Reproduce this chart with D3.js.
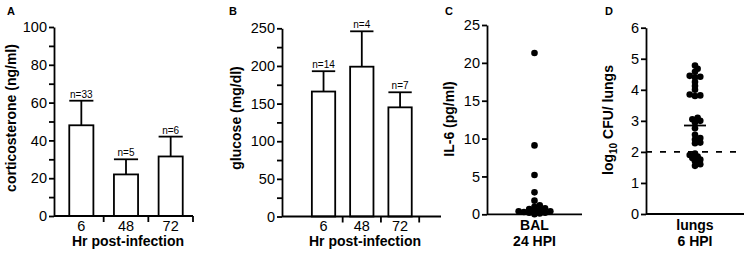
<!DOCTYPE html>
<html>
<head>
<meta charset="utf-8">
<script src="https://cdn.jsdelivr.net/npm/d3@7"></script>
<style>
body{margin:0;background:#fff;}
svg{display:block;font-family:"Liberation Sans",Arial,sans-serif;}
</style>
</head>
<body>
<svg id="fig" width="744" height="254"></svg>
<script>
//panel A + B : bars
var hours=['6','48','72'];
var cortMean=[48,22,31.5];
var cortTop=[61,30,42];
var cortN=['n=33','n=5','n=6'];
var glucMean=[166,199,145];
var glucTop=[193,246,165];
var glucN=['n=14','n=4','n=7'];

//panel C + D : scatter
var il6=[21.3,9.1,5.2,2.9,1.8,1.2,1.0,0.8,0.7,0.6,0.5,0.4,0.4,0.3,0.2,0.2,0.1,0.0];
var cfu=[4.78,4.68,4.58,4.45,4.42,4.4,4.25,4.12,4.0,3.85,3.82,3.8,
  3.1,3.05,3.0,2.95,2.76,2.55,2.45,2.4,2.3,2.28,
  1.95,1.9,1.85,1.8,1.75,1.7,1.6,1.55];
var cfuMean=2.85;
var cfuLimit=2;

var svg=d3.select('#fig');
var black='#000';

function yAxis(g,y,ticks,labelEvery){
  var ax=d3.axisLeft(y)
    .tickValues(ticks)
    .tickFormat(d=> d%labelEvery ? '' : d)
    .tickSize(5)
    .tickSizeOuter(0)
    .tickPadding(2);
  g.call(ax);
  g.attr('font-size',14.5).attr('font-family',null);
  g.selectAll('path,line').attr('stroke',black).attr('stroke-width',1.8);
  g.selectAll('text').attr('fill',black);
}

function yTitle(x,yc,txt){
  svg.append('text')
    .attr('transform','translate('+x+','+yc+') rotate(-90)')
    .attr('text-anchor','middle')
    .attr('font-weight','bold')
    .attr('font-size',14)
    .text(txt);
}

function letter(x,y,t){
  svg.append('text').attr('x',x).attr('y',y)
    .attr('font-weight','bold').attr('font-size',11).text(t);
}

function drawBars(o){
  var y=d3.scaleLinear().domain(o.ydom).range([o.y0,o.y1]);
  var x=d3.scaleBand().domain(hours).range(o.xr)
    .paddingInner(o.pad).paddingOuter(o.pad/2);
  var bw=x.bandwidth(), step=x.step();
  var g=svg.append('g');
  var rows=hours.map((h,i)=>({h:h,m:o.mean[i],t:o.top[i],n:o.n[i]}));

  //error bars first, bars on top
  g.selectAll('.err').data(rows).enter().append('line')
    .attr('x1',d=>x(d.h)+bw/2).attr('x2',d=>x(d.h)+bw/2)
    .attr('y1',d=>y(d.m)).attr('y2',d=>y(d.t))
    .attr('stroke',black).attr('stroke-width',1.8);
  g.selectAll('.cap').data(rows).enter().append('line')
    .attr('x1',d=>x(d.h)).attr('x2',d=>x(d.h)+bw)
    .attr('y1',d=>y(d.t)).attr('y2',d=>y(d.t))
    .attr('stroke',black).attr('stroke-width',1.8);
  g.selectAll('rect').data(rows).enter().append('rect')
    .attr('x',d=>x(d.h)).attr('y',d=>y(d.m))
    .attr('width',bw).attr('height',d=>y(0)-y(d.m))
    .attr('fill','#fff').attr('stroke',black).attr('stroke-width',1.8);
  g.selectAll('.n').data(rows).enter().append('text')
    .attr('x',d=>x(d.h)+bw/2).attr('y',d=>y(d.t)-3)
    .attr('text-anchor','middle').attr('font-size',10).text(d=>d.n);

  //x axis
  g.append('line').attr('x1',o.ax).attr('x2',o.xend)
    .attr('y1',y(0)).attr('y2',y(0))
    .attr('stroke',black).attr('stroke-width',1.8);
  g.selectAll('.xt').data(hours).enter().append('line')
    .attr('x1',d=>x(d)+bw/2+step/2).attr('x2',d=>x(d)+bw/2+step/2)
    .attr('y1',y(0)).attr('y2',y(0)+6)
    .attr('stroke',black).attr('stroke-width',1.8);
  g.selectAll('.xl').data(hours).enter().append('text')
    .attr('x',d=>x(d)+bw/2).attr('y',y(0)+14.5)
    .attr('text-anchor','middle').attr('font-size',14.5).text(d=>d);
  g.append('text').attr('x',o.titleX).attr('y',246)
    .attr('text-anchor','middle').attr('font-weight','bold').attr('font-size',14)
    .text('Hr post-infection');

  yAxis(g.append('g').attr('transform','translate('+o.ax+',0)'),y,o.ticks,o.every);
}

function swarm(vals,y,cx,r){
  var placed=[];
  vals.slice().sort(d3.ascending).forEach(v=>{
    var py=y(v), k=0, px;
    while(true){
      px=cx+(k===0?0:(k%2?1:-1)*Math.ceil(k/2)*r*0.8);
      if(!placed.some(p=>Math.hypot(p.x-px,p.y-py)<2*r*0.55)) break;
      k++;
    }
    placed.push({x:px,y:py});
  });
  return placed;
}

function drawDots(o){
  var y=d3.scaleLinear().domain(o.ydom).range([o.y0,o.y1]);
  var g=svg.append('g');
  var cx=(o.ax+o.xend)/2;
  if(o.dash!=null){
    g.append('line').attr('x1',o.ax).attr('x2',o.xend)
      .attr('y1',y(o.dash)).attr('y2',y(o.dash))
      .attr('stroke',black).attr('stroke-width',1.8).attr('stroke-dasharray','6,8');
  }
  var pts=swarm(o.vals,y,cx,3.3);
  g.selectAll('circle').data(pts).enter().append('circle')
    .attr('cx',d=>d.x).attr('cy',d=>d.y).attr('r',3.3).attr('fill',black);
  if(o.mean!=null){
    g.append('line').attr('x1',cx-11).attr('x2',cx+11)
      .attr('y1',y(o.mean)).attr('y2',y(o.mean))
      .attr('stroke',black).attr('stroke-width',1.8);
  }
  g.append('line').attr('x1',o.ax).attr('x2',o.xend)
    .attr('y1',y(0)).attr('y2',y(0))
    .attr('stroke',black).attr('stroke-width',1.8);
  o.lab.forEach((t,i)=>{
    g.append('text').attr('x',cx).attr('y',230+i*15.5)
      .attr('text-anchor','middle').attr('font-weight','bold').attr('font-size',14).text(t);
  });
  yAxis(g.append('g').attr('transform','translate('+o.ax+',0)'),y,o.ticks,o.every);
}

drawBars({ydom:[0,100],y0:216,y1:27,xr:[59,193],pad:0.46,ax:54,xend:193,
  mean:cortMean,top:cortTop,n:cortN,ticks:d3.range(0,101,10),every:20,titleX:128});
drawBars({ydom:[0,250],y0:216.5,y1:28.3,xr:[304.4,419.2],pad:0.39,ax:282,xend:441,
  mean:glucMean,top:glucTop,n:glucN,ticks:d3.range(0,251,25),every:50,titleX:365});
drawDots({ydom:[0,25],y0:214.3,y1:25,ax:487,xend:582,vals:il6,
  ticks:d3.range(0,26,5),every:5,lab:['BAL','24 HPI']});
drawDots({ydom:[0,6],y0:214,y1:27.7,ax:646,xend:744,vals:cfu,mean:cfuMean,dash:cfuLimit,
  ticks:d3.range(0,7,1),every:1,lab:['lungs','6 HPI']});

yTitle(16,118,'corticosterone (ng/ml)');
yTitle(241,118,'glucose (mg/dl)');
yTitle(454,119,'IL-6 (pg/ml)');

//log10 title needs a subscript
var t=svg.append('text')
  .attr('transform','translate(613,120) rotate(-90)')
  .attr('text-anchor','middle').attr('font-weight','bold').attr('font-size',14);
t.append('tspan').text('log');
t.append('tspan').attr('font-size',10).attr('dy',4).text('10');
t.append('tspan').attr('dy',-4).text(' CFU/ lungs');

letter(7,15,'A');
letter(229,15,'B');
letter(445,15,'C');
letter(605,15,'D');
</script>
</body>
</html>
